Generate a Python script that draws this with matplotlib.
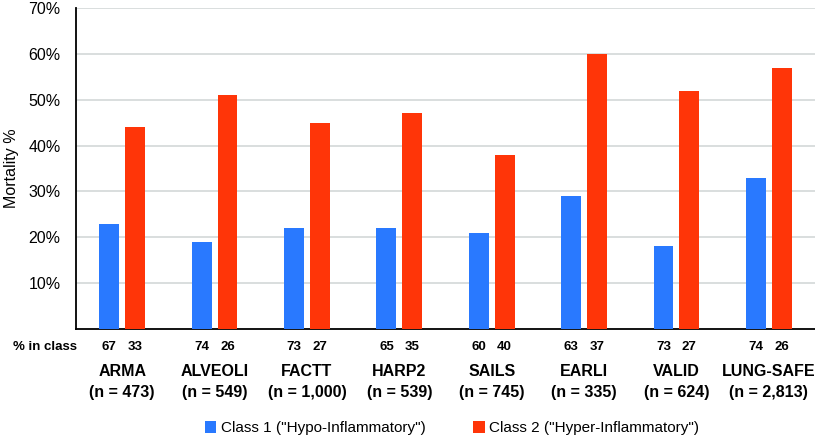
import matplotlib
matplotlib.use("Agg")
import matplotlib.pyplot as plt
import matplotlib.transforms as mt
import numpy as np

studies = ["ARMA", "ALVEOLI", "FACTT", "HARP2", "SAILS", "EARLI", "VALID", "LUNG-SAFE"]
n_labels = ["(n = 473)", "(n = 549)", "(n = 1,000)", "(n = 539)", "(n = 745)", "(n = 335)", "(n = 624)", "(n = 2,813)"]
class1_mort = [23, 19, 22, 22, 21, 29, 18, 33]
class2_mort = [44, 51, 45, 47, 38, 60, 52, 57]
class1_pct = [67, 74, 73, 65, 60, 63, 73, 74]
class2_pct = [33, 26, 27, 35, 40, 37, 27, 26]
yticks = [10, 20, 30, 40, 50, 60, 70]
legend_labels = ['Class 1 ("Hypo-Inflammatory")', 'Class 2 ("Hyper-Inflammatory")']

blue = "#2979FF"
red = "#FF3508"

plt.rcParams['font.family'] = ['Liberation Sans', 'DejaVu Sans']

fig = plt.figure(figsize=(8.15, 4.37), dpi=100)
ax = fig.add_axes([76/815, 1-329/437, 1-76/815, (329-8)/437])

x = np.arange(len(studies))
off = 0.14
w = 0.216
b1 = ax.bar(x - off, class1_mort, w, color=blue, zorder=3)
b2 = ax.bar(x + off, class2_mort, w, color=red, zorder=3)

ax.set_xlim(-0.5, len(studies) - 0.5)
ax.set_ylim(0, 70)
ax.set_yticks(yticks)
ax.set_yticklabels([f"{v}%" for v in yticks], fontsize=11.5)
ax.set_xticks([])
ax.tick_params(axis='y', length=0, pad=11)
ax.grid(axis='y', color='#d3d8d8', linewidth=1.2, zorder=0)
for s in ['top', 'right']:
    ax.spines[s].set_visible(False)
ax.spines['left'].set_linewidth(1.3)
ax.spines['bottom'].set_linewidth(1.3)
ax.set_ylabel("Mortality %", fontsize=11.5, labelpad=7)

def fy(py):
    return 1 - py / 437

blend = mt.blended_transform_factory(ax.transData, fig.transFigure)
fig.text(13/815, fy(347), "% in class", fontsize=9.5, fontweight='bold', va='center', ha='left')
for i in range(len(studies)):
    fig.text(x[i] - off, fy(347), str(class1_pct[i]), transform=blend, fontsize=9.5, fontweight='bold', ha='center', va='center')
    fig.text(x[i] + off, fy(347), str(class2_pct[i]), transform=blend, fontsize=9.5, fontweight='bold', ha='center', va='center')
    fig.text(x[i], fy(371), studies[i], transform=blend, fontsize=11.5, fontweight='bold', ha='center', va='center')
    fig.text(x[i], fy(393), n_labels[i], transform=blend, fontsize=11.5, fontweight='bold', ha='center', va='center')

fig.legend([b1, b2], legend_labels, loc='center', bbox_to_anchor=(452/815, fy(428)), ncol=2,
           frameon=False, handlelength=0.75, handleheight=0.9, handletextpad=0.3, columnspacing=3.1,
           prop={'size': 11})

fig.savefig("out.png", dpi=100)
